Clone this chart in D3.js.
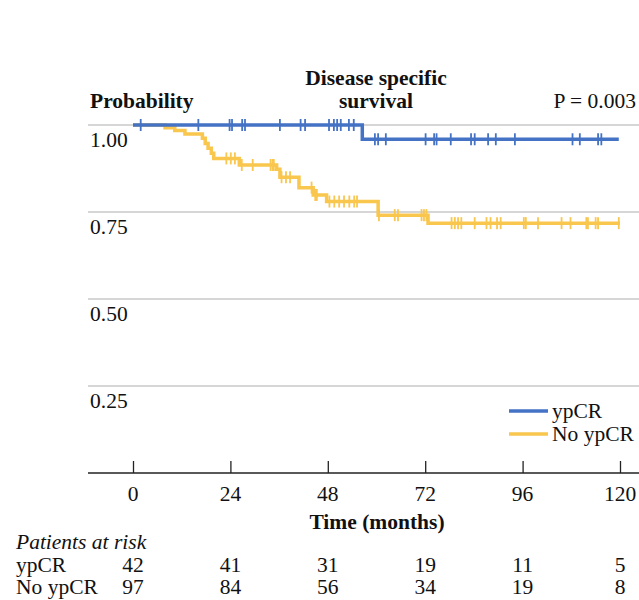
<!DOCTYPE html>
<html>
<head>
<meta charset="utf-8">
<script src="https://cdn.jsdelivr.net/npm/d3@7"></script>
<style>
    body { margin: 0; background: #fff; }
    svg text { font-family: "Liberation Serif", "DejaVu Serif", serif; fill: #111; font-size: 21.5px; }
    .bold { font-weight: bold; }
</style>
</head>
<body>
<svg id="km" width="639" height="600"></svg>
<script>
// tick labels for the time axis (months) and probability gridlines
const xTicks = [0, 24, 48, 72, 96, 120],
    yTicks = [1.00, 0.75, 0.50, 0.25];

// ypCR curve: step times, survival after each step, censored times
const ypcrTimes = [0, 56.5],
    ypcrSurv = [1, 0.959],
    ypcrCensor = [1.9, 16.1, 23.8, 24.4, 26.9, 27.6, 36.2, 41.3, 42.4, 48.3, 49.5, 50.3, 51.2,
        53.2, 54.4, 59.6, 60.4, 62.3, 72.1, 74.2, 74.8, 78.3, 83.3, 84.2, 87.5, 89.4, 94.1,
        108.3, 110.1, 114.6, 115.4],
    ypcrEnd = 119.7;

// No ypCR curve
const noTimes = [0, 7.9, 10.3, 12.8, 17.1, 17.8, 18.5, 19.3, 19.9, 26.2, 35.4, 36.2, 40.9, 44.4, 47.7, 60.4, 72.7],
    noSurv = [1, 0.992, 0.984, 0.974, 0.962, 0.947, 0.933, 0.919, 0.904, 0.885, 0.873, 0.850, 0.820, 0.799, 0.780, 0.741, 0.718],
    noCensor = [23.0, 24.1, 25.1, 26.8, 29.5, 33.9, 34.4, 34.7, 36.6, 37.7, 38.7, 44.0, 44.9, 45.3,
        48.4, 49.6, 50.8, 52.0, 53.3, 54.5, 55.2, 60.6, 64.5, 65.3, 71.1, 71.7, 72.3, 78.5, 79.3,
        80.1, 80.9, 84.2, 87.1, 88.1, 89.7, 90.6, 96.3, 96.8, 99.8, 105.6, 107.8, 111.7, 112.1,
        114.0, 114.6, 119.7],
    noEnd = 120;

// patients at risk
const riskGroups = ["ypCR", "No ypCR"],
    riskYpcr = [42, 41, 31, 19, 11, 5],
    riskNo = [97, 84, 56, 34, 19, 8];

const BLUE = "#4472C4",
    YELLOW = "#F9C64E";

var svg = d3.select("#km");

var x = d3.scaleLinear().domain([0, 120]).range([133, 620]);
var y = d3.scaleLinear().domain([0, 1]).range([473, 125]);

// gridlines
svg.append("g")
    .selectAll("line")
    .data(yTicks)
    .enter()
    .append("line")
    .attr("x1", 88)
    .attr("x2", 639)
    .attr("y1", d => y(d))
    .attr("y2", d => y(d))
    .attr("stroke", "#c9c9c9")
    .attr("stroke-width", 1.5);

// y labels sit under their gridline
svg.append("g")
    .selectAll("text")
    .data(yTicks)
    .enter()
    .append("text")
    .attr("x", 90)
    .attr("y", d => y(d) + 22)
    .text(d => d.toFixed(2));

// x axis: line with ticks pointing up
var xAxis = d3.axisTop(x)
    .tickValues(xTicks)
    .tickSize(12)
    .tickFormat("");

var gx = svg.append("g")
    .attr("transform", "translate(0,473)")
    .call(xAxis);
gx.select(".domain").remove();
gx.selectAll(".tick line").attr("stroke", "#222").attr("stroke-width", 1.3);

svg.append("line")
    .attr("x1", 88).attr("x2", 639)
    .attr("y1", 473).attr("y2", 473)
    .attr("stroke", "#222")
    .attr("stroke-width", 1.5);

svg.append("g")
    .selectAll("text")
    .data(xTicks)
    .enter()
    .append("text")
    .attr("x", d => x(d))
    .attr("y", 501)
    .attr("text-anchor", "middle")
    .text(d => d);

// curves
let survAt = function(times, surv, t) {
    let i = d3.bisectRight(times, t) - 1;
    return surv[Math.max(0, i)];
};

let drawCurve = function(times, surv, end, censor, color) {
    var pts = times.map((t, i) => [t, surv[i]]);
    pts.push([end, surv[surv.length - 1]]);

    var line = d3.line()
        .x(d => x(d[0]))
        .y(d => y(d[1]))
        .curve(d3.curveStepAfter);

    var g = svg.append("g");
    g.append("path")
        .datum(pts)
        .attr("d", line)
        .attr("fill", "none")
        .attr("stroke", color)
        .attr("stroke-width", 3.5);

    g.selectAll("line")
        .data(censor)
        .enter()
        .append("line")
        .attr("x1", d => x(d))
        .attr("x2", d => x(d))
        .attr("y1", d => y(survAt(times, surv, d)) - 6)
        .attr("y2", d => y(survAt(times, surv, d)) + 6)
        .attr("stroke", color)
        .attr("stroke-width", 1.8);
};

drawCurve(noTimes, noSurv, noEnd, noCensor, YELLOW);
drawCurve(ypcrTimes, ypcrSurv, ypcrEnd, ypcrCensor, BLUE);

// titles
svg.append("text")
    .attr("class", "bold")
    .attr("x", 90).attr("y", 108)
    .text("Probability");

svg.append("text")
    .attr("class", "bold")
    .attr("x", 376).attr("y", 85)
    .attr("text-anchor", "middle")
    .text("Disease specific");

svg.append("text")
    .attr("class", "bold")
    .attr("x", 376).attr("y", 108)
    .attr("text-anchor", "middle")
    .text("survival");

svg.append("text")
    .attr("x", 636).attr("y", 108)
    .attr("text-anchor", "end")
    .text("P = 0.003");

// legend
var legend = svg.append("g")
    .selectAll("g")
    .data([["ypCR", BLUE], ["No ypCR", YELLOW]])
    .enter()
    .append("g")
    .attr("transform", (d, i) => "translate(509," + (411 + i * 23) + ")");

legend.append("line")
    .attr("x1", 0).attr("x2", 39)
    .attr("stroke", d => d[1])
    .attr("stroke-width", 3.5);

legend.append("text")
    .attr("x", 43).attr("y", 7)
    .text(d => d[0]);

svg.append("text")
    .attr("class", "bold")
    .attr("x", 377).attr("y", 529)
    .attr("text-anchor", "middle")
    .text("Time (months)");

// patients at risk table
svg.append("text")
    .attr("x", 16).attr("y", 549)
    .style("font-style", "italic")
    .text("Patients at risk");

[riskYpcr, riskNo].forEach(function(row, r) {
    var ry = 572 + r * 22;
    svg.append("text")
        .attr("x", 16).attr("y", ry)
        .text(riskGroups[r]);
    svg.append("g")
        .selectAll("text")
        .data(row)
        .enter()
        .append("text")
        .attr("x", (d, i) => x(xTicks[i]))
        .attr("y", ry)
        .attr("text-anchor", "middle")
        .text(d => d);
});
</script>
</body>
</html>
